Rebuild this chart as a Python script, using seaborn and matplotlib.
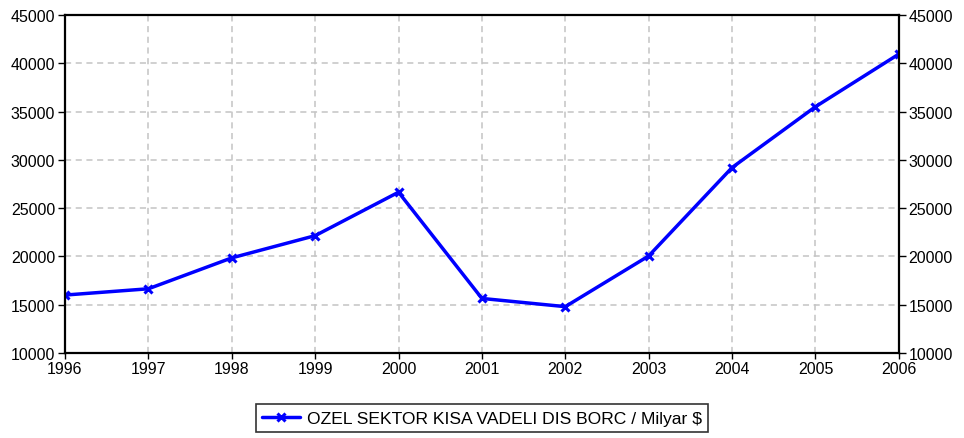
import matplotlib
matplotlib.use('Agg')
import matplotlib.pyplot as plt
import seaborn as sns
import pandas as pd

years = [1996, 1997, 1998, 1999, 2000, 2001, 2002, 2003, 2004, 2005, 2006]
borc = [16000, 16650, 19850, 22150, 26650, 15650, 14800, 20050, 29200, 35500, 40950]
series_name = 'OZEL SEKTOR KISA VADELI DIS BORC / Milyar $'

df = pd.DataFrame({'Yil': years, 'Borc': borc})

sns.set_style('white')
plt.rcParams['font.family'] = ['Liberation Sans', 'DejaVu Sans']
plt.rcParams['text.color'] = 'black'

fig = plt.figure(figsize=(9.64, 4.39), dpi=100)
ax = fig.add_axes([0.0674, 0.1936, 0.865, 0.77])

sns.lineplot(data=df, x='Yil', y='Borc', ax=ax, color='#0000ff', linewidth=2.5,
             marker='x', markersize=6, markeredgewidth=2.2, markeredgecolor='#0000ff',
             label=series_name, legend=False)

ax.set_xlim(1996, 2006)
ax.set_ylim(10000, 45000)
ax.set_xticks(years)
ax.set_yticks(range(10000, 45001, 5000))
ax.set_xlabel('')
ax.set_ylabel('')
ax.grid(True, color='#c4c4c4', linestyle=(0, (4, 3)), linewidth=1.1)

for s in ax.spines.values():
    s.set_color('black')
    s.set_linewidth(1.6)

ax.tick_params(axis='y', direction='out', length=5, width=1, left=True, right=True,
               labelleft=True, labelright=True, labelsize=11.5, pad=2, colors='black')
ax.tick_params(axis='x', direction='out', length=4, width=1, bottom=True,
               labelsize=11.5, pad=2, colors='black')

h, l = ax.get_legend_handles_labels()
leg = fig.legend(h, l, loc='center', bbox_to_anchor=(482 / 964, 1 - 419 / 439),
                 frameon=True, fancybox=False, edgecolor='black', fontsize=12.6,
                 handlelength=2.2, handletextpad=0.4, borderpad=0.35)
leg.get_frame().set_linewidth(1.2)

fig.savefig('out.png', dpi=100)
